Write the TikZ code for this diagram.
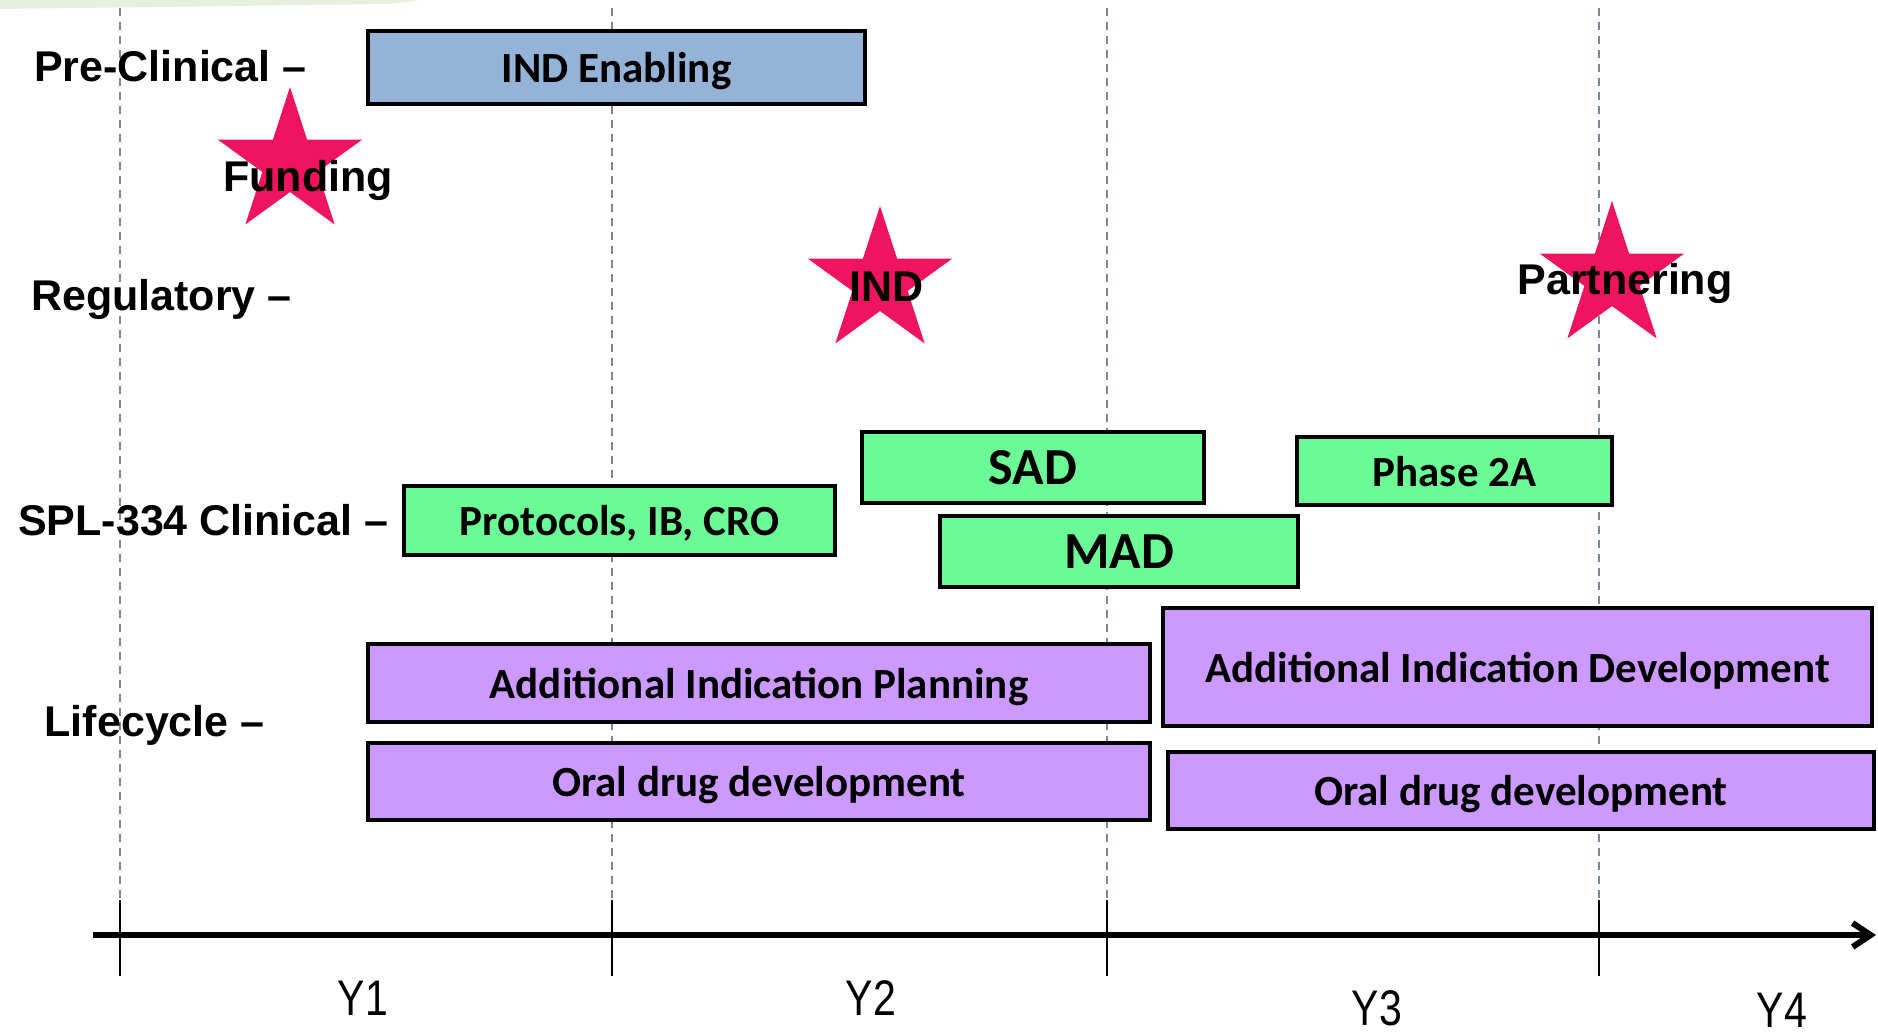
\documentclass[tikz,border=0pt]{standalone}
\usepackage{fontspec}
\setmainfont{Liberation Sans}
\newfontfamily\barfont{Carlito}
\newfontfamily\yearfont[FakeStretch=0.82]{Liberation Sans}
\usetikzlibrary{shapes.geometric}
\usetikzlibrary{arrows.meta}
\definecolor{preblue}{RGB}{149,179,215}
\definecolor{clingreen}{RGB}{108,250,150}
\definecolor{lifepurple}{RGB}{204,153,255}
\definecolor{starpink}{RGB}{238,20,95}
\definecolor{gridgray}{RGB}{125,135,155}
\definecolor{slidegreen}{RGB}{230,240,222}

\begin{document}
\begin{tikzpicture}[x=0.5pt, y=-0.5pt,
    bar/.style={draw, line width=2pt, inner sep=0pt, text depth=0pt, font=\barfont\bfseries\fontsize{21.5}{24}\selectfont},
    preclin/.style={bar, fill=preblue},
    clin/.style={bar, fill=clingreen},
    life/.style={bar, fill=lifepurple},
    rowlabel/.style={anchor=east, inner sep=0pt, yshift=-2pt, font=\bfseries\fontsize{21.5}{24}\selectfont},
    milestone/.style={star, star points=5, star point ratio=2.618, fill=starpink, inner sep=0pt, minimum size=76pt},
    mslabel/.style={inner sep=0pt, yshift=-2pt, font=\bfseries\fontsize{21.5}{24}\selectfont},
    yearlabel/.style={inner sep=0pt, font=\yearfont\fontsize{25}{28}\selectfont},
    yearline/.style={gridgray, line width=1pt, dash pattern=on 4pt off 3pt}]
    \useasboundingbox (0,0) rectangle (1878,1035);
    \fill[slidegreen] (0,0) -- (420,0) -- (390,4) -- (0,9) -- cycle;

    % year grid and ticks
    \foreach \x in {120,612,1107,1599}{
        \draw[yearline] (\x,8) -- (\x,898);
        \draw[line width=1.2pt] (\x,900) -- (\x,976);
    }
    \coordinate (axisL) at (93,935);
    \coordinate (axisR) at (1876,935);
    \draw[line width=3pt, -{Straight Barb[length=9pt, width=12pt]}] (axisL) -- (axisR);

    \node[yearlabel] (y1) at (363,998) {Y1};
    \node[yearlabel] (y2) at (871,998) {Y2};
    \node[yearlabel] (y3) at (1377,1008) {Y3};
    \node[yearlabel] (y4) at (1782,1010) {Y4};

    % row labels
    \node[rowlabel] (preclinical) at (307,62) {Pre-Clinical --};
    \node[rowlabel] (regulatory) at (292,295) {Regulatory --};
    \node[rowlabel] (clinical) at (389,516) {SPL-334 Clinical --};
    \node[rowlabel] (lifecycle) at (265,721) {Lifecycle --};

    % activities
    \node[preclin, minimum width=248.5pt, minimum height=36.5pt] (indenabling) at (616.5,67.5) {IND Enabling};
    \node[clin, minimum width=215.5pt, minimum height=34.5pt] (protocols) at (619.5,520.5) {Protocols, IB, CRO};
    \node[clin, minimum width=171pt, minimum height=35.5pt, font=\barfont\bfseries\fontsize{26}{28}\selectfont] (sad) at (1033,467.5) {SAD};
    \node[clin, minimum width=179pt, minimum height=35.5pt, font=\barfont\bfseries\fontsize{26}{28}\selectfont] (mad) at (1119,551.5) {MAD};
    \node[clin, minimum width=157.5pt, minimum height=34pt] (phasetwo) at (1454.5,471) {Phase 2A};
    \node[life, minimum width=391pt, minimum height=39pt] (planning) at (759,683) {Additional Indication Planning};
    \node[life, minimum width=391pt, minimum height=38.5pt] (oralA) at (759,781.5) {Oral drug development};
    \node[life, minimum width=354.5pt, minimum height=59pt] (development) at (1517.5,667) {Additional Indication Development};
    \node[life, minimum width=353pt, minimum height=38.5pt] (oralB) at (1521,790.5) {Oral drug development};

    % milestones
    \node[milestone] (fundstar) at (290,163) {};
    \node[mslabel] (funding) at (308,176) {Funding};
    \node[milestone] (indstar) at (880,282) {};
    \node[mslabel] (ind) at (887,283) {IND};
    \node[milestone] (partstar) at (1612,277) {};
    \node[mslabel] (partnering) at (1625,279) {Partnering};
\end{tikzpicture}
\end{document}
